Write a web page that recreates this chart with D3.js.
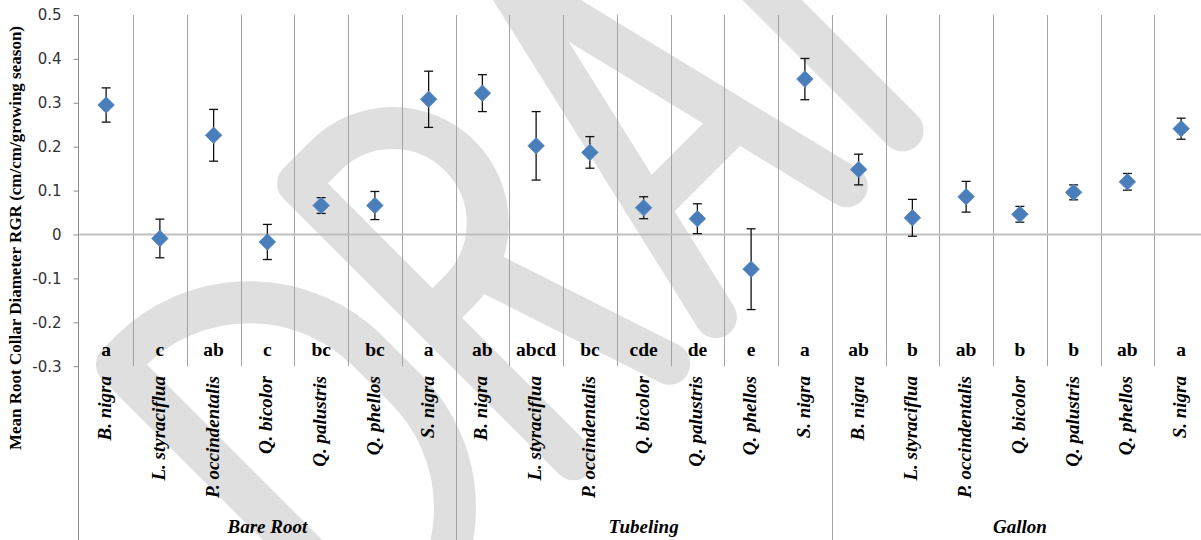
<!DOCTYPE html>
<html>
<head>
<meta charset="utf-8">
<script src="https://cdn.jsdelivr.net/npm/d3@7"></script>
<style>
  html, body { margin: 0; padding: 0; background: #fff; }
  svg { display: block; }
  .serif { font-family: "Liberation Serif", "Times New Roman", "DejaVu Serif", serif; }
  .tick text { font-family: "DejaVu Sans", sans-serif; }
</style>
</head>
<body>
<svg id="chart" width="1201" height="540"></svg>
<script>
// Planting stock types and species
const groups = ["Bare Root", "Tubeling", "Gallon"];
const species = ["B. nigra", "L. styraciflua", "P. occindentalis", "Q. bicolor", "Q. palustris", "Q. phellos", "S. nigra"];

// Mean RGR per species within each stock type
const meanBareRoot = [0.295, -0.009, 0.226, -0.017, 0.066, 0.066, 0.308];
const meanTubeling = [0.322, 0.202, 0.187, 0.061, 0.036, -0.079, 0.354];
const meanGallon   = [0.148, 0.038, 0.086, 0.046, 0.096, 0.120, 0.241];

// Standard error (half-length of each error bar)
const errBareRoot = [0.039, 0.044, 0.059, 0.040, 0.018, 0.032, 0.064];
const errTubeling = [0.042, 0.078, 0.036, 0.025, 0.034, 0.092, 0.047];
const errGallon   = [0.035, 0.042, 0.035, 0.018, 0.017, 0.019, 0.024];

// Mean separation letters
const lettersBareRoot = ["a", "c", "ab", "c", "bc", "bc", "a"];
const lettersTubeling = ["ab", "abcd", "bc", "cde", "de", "e", "a"];
const lettersGallon   = ["ab", "b", "ab", "b", "b", "ab", "a"];

// Y axis ticks
const yTicks = [-0.3, -0.2, -0.1, 0, 0.1, 0.2, 0.3, 0.4, 0.5];
const yTickLabels = ["-0.3", "-0.2", "-0.1", "0", "0.1", "0.2", "0.3", "0.4", "0.5"];

const yTitle = "Mean Root Collar Diameter RGR (cm/cm/growing season)";

// Flatten into one row per plotted point
const means = [meanBareRoot, meanTubeling, meanGallon];
const errs = [errBareRoot, errTubeling, errGallon];
const letters = [lettersBareRoot, lettersTubeling, lettersGallon];
const rows = [];
groups.forEach((g, gi) => {
  species.forEach((s, si) => {
    rows.push({ key: g + "|" + s, group: g, species: s,
      mean: means[gi][si], err: errs[gi][si], letter: letters[gi][si] });
  });
});

const svg = d3.select("#chart");
const W = 1201, H = 540;
const plotTop = 15, plotBottom = 366.2, plotLeft = 79.25, plotRight = 1208;

svg.append("rect").attr("width", W).attr("height", H).attr("fill", "#fff");

const x = d3.scaleBand().domain(rows.map(d => d.key)).range([plotLeft, plotRight]).padding(0);
const y = d3.scaleLinear().domain([-0.3, 0.5]).range([plotBottom, plotTop]);

// "DRAFT" watermark drawn as thick rounded strokes, rotated across the page
const wm = svg.append("g")
  .attr("transform", "translate(516.5,516.5) rotate(-45)")
  .attr("fill", "none")
  .attr("stroke", "#dfdfdf")
  .attr("stroke-width", 42)
  .attr("stroke-linecap", "round")
  .attr("stroke-linejoin", "round");
const glyphs = [
  // D
  "M-175,0 L-175,-390 L-157,-390 A169,169 0 0 1 12,-221 L12,-169 A169,169 0 0 1 -157,0 Z",
  // R
  "M81,0 L81,-390 L120,-390 A95,95 0 0 1 120,-200 L81,-200 M150,-200 L216,0",
  // A
  "M282,0 L372,-390 L467,0 M311,-125 L436,-125",
  // F
  "M546,0 L546,-390 L716,-390 M546,-210 L686,-210",
  // T
  "M760,-390 L960,-390 M860,-390 L860,0"
];
wm.selectAll("path").data(glyphs).join("path").attr("d", d => d);

// Vertical gridlines between categories; group boundaries run down through the label area
const boundaries = d3.range(1, rows.length).map(i => ({ i, x: x(rows[i].key) }));
svg.append("g").selectAll("line").data(boundaries).join("line")
  .attr("x1", d => Math.round(d.x) + 0.5).attr("x2", d => Math.round(d.x) + 0.5)
  .attr("y1", plotTop)
  .attr("y2", d => (d.i % species.length === 0) ? H : plotBottom)
  .attr("stroke", "#a3a3a3").attr("stroke-width", 1);

// Horizontal category axis at zero
svg.append("line")
  .attr("x1", plotLeft).attr("x2", W)
  .attr("y1", y(0)).attr("y2", y(0))
  .attr("stroke", "#bfbfbf").attr("stroke-width", 2);

// Vertical value axis
const yAxis = d3.axisLeft(y)
  .tickValues(yTicks)
  .tickFormat((d, i) => yTickLabels[i])
  .tickSize(5)
  .tickPadding(12);
const axisG = svg.append("g").attr("transform", "translate(78.5,0)").call(yAxis);
axisG.attr("font-family", null).attr("font-size", null);
axisG.select(".domain").remove();
axisG.selectAll(".tick line").attr("stroke", "#8c8c8c");
axisG.selectAll(".tick text")
  .attr("font-size", 15)
  .attr("fill", "#333");
svg.append("line")
  .attr("x1", 78.5).attr("x2", 78.5).attr("y1", plotTop).attr("y2", H)
  .attr("stroke", "#8c8c8c").attr("stroke-width", 1);

// Error bars
const cx = d => x(d.key) + x.bandwidth() / 2;
const eb = svg.append("g").attr("stroke", "#111").attr("stroke-width", 1.3);
eb.selectAll("line.v").data(rows).join("line").attr("class", "v")
  .attr("x1", cx).attr("x2", cx)
  .attr("y1", d => y(d.mean + d.err)).attr("y2", d => y(d.mean - d.err));
eb.selectAll("line.t").data(rows).join("line").attr("class", "t")
  .attr("x1", d => cx(d) - 4.5).attr("x2", d => cx(d) + 4.5)
  .attr("y1", d => y(d.mean + d.err)).attr("y2", d => y(d.mean + d.err));
eb.selectAll("line.b").data(rows).join("line").attr("class", "b")
  .attr("x1", d => cx(d) - 4.5).attr("x2", d => cx(d) + 4.5)
  .attr("y1", d => y(d.mean - d.err)).attr("y2", d => y(d.mean - d.err));

// Diamond markers
const diamond = d3.symbol().type(d3.symbolSquare).size(136);
svg.append("g").selectAll("path").data(rows).join("path")
  .attr("d", diamond)
  .attr("transform", d => `translate(${cx(d)},${y(d.mean)}) rotate(45)`)
  .attr("fill", "#4a7ebb")
  .attr("stroke", "#5585c2").attr("stroke-width", 0.8);

// Mean separation letters
svg.append("g").selectAll("text").data(rows).join("text")
  .attr("class", "serif")
  .attr("x", cx).attr("y", 356)
  .attr("text-anchor", "middle")
  .attr("font-weight", "bold")
  .attr("font-size", 19.5)
  .attr("fill", "#000")
  .text(d => d.letter);

// Species labels, rotated
svg.append("g").selectAll("text").data(rows).join("text")
  .attr("class", "serif")
  .attr("transform", d => `translate(${cx(d) + 5},376) rotate(-90)`)
  .attr("text-anchor", "end")
  .attr("font-weight", "bold")
  .attr("font-style", "italic")
  .attr("font-size", 19)
  .attr("fill", "#000")
  .text(d => d.species);

// Stock type labels centred under each group
svg.append("g").selectAll("text").data(groups).join("text")
  .attr("class", "serif")
  .attr("x", (g, gi) => {
    const first = x(rows[gi * species.length].key);
    const last = x(rows[gi * species.length + species.length - 1].key) + x.bandwidth();
    return (first + last) / 2;
  })
  .attr("y", 533)
  .attr("text-anchor", "middle")
  .attr("font-weight", "bold")
  .attr("font-style", "italic")
  .attr("font-size", 19)
  .attr("fill", "#000")
  .text(g => g);

// Value axis title
svg.append("text")
  .attr("class", "serif")
  .attr("transform", "translate(21,238) rotate(-90)")
  .attr("text-anchor", "middle")
  .attr("font-weight", "bold")
  .attr("font-size", 17)
  .attr("fill", "#000")
  .text(yTitle);
</script>
</body>
</html>
